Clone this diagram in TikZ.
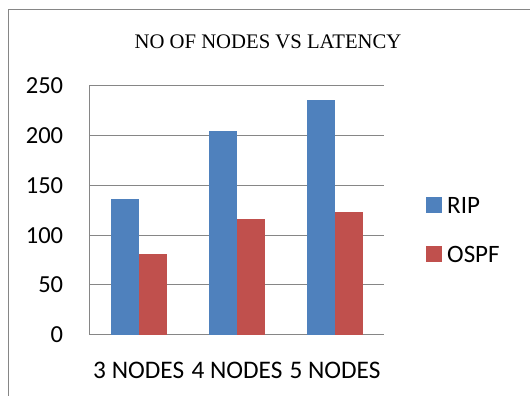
\documentclass[tikz,border=0pt]{standalone}
\usepackage{fontspec}
\setmainfont{Carlito}
\newfontfamily\titlefont{Liberation Serif}
\usetikzlibrary{calc}

\definecolor{ripblue}{HTML}{4F81BD}
\definecolor{ospfred}{HTML}{C0504D}
\definecolor{gridgray}{HTML}{868686}

\begin{document}
\begin{tikzpicture}[x=1pt, y=1pt,
  grid/.style={draw=gridgray, line width=1.1pt},
  bar/.style={line width=0pt},
  ticklabel/.style={anchor=east, inner sep=0pt, font=\fontsize{24.5}{24.5}\selectfont},
  catlabel/.style={inner sep=0pt, font=\fontsize{25.3}{25.3}\selectfont},
  keylabel/.style={anchor=west, inner sep=0pt, font=\fontsize{25}{25}\selectfont}]

\useasboundingbox (0,0) rectangle (530,396);

% Outer frame (only left and top edges show)
\draw[gridgray, line width=0.9pt] (8,0) -- (8,387) -- (530,387);

% Title
\node[font=\titlefont\fontsize{20.7}{20.7}\selectfont] (title) at (268,354) {NO OF NODES VS LATENCY};

% Origin of the plot area
\coordinate (O) at (89.3,61.3);

\begin{scope}[shift={(O)}, y=0.995pt]

% Gridlines and their labels
\foreach \v in {0,50,...,250} {
  \draw[grid] (0,\v) -- (294.7,\v);
  \node[ticklabel] (tick\v) at (-26,\v) {\v};
}
\draw[grid] (0,0) -- (0,250);

% Bars, one pair for each group (centre / RIP / OSPF)
\foreach \c\r\o\n in {49.4/136/81/3, 147.7/205/116/4, 245.7/236/123/5} {
  \fill[ripblue, bar] (\c-28,0) rectangle (\c,\r);
  \fill[ospfred, bar] (\c,0) rectangle (\c+28,\o);
  \node[catlabel] (cat\n) at (\c,-35.5) {\n{} NODES};
}

\end{scope}

% Legend
\fill[ripblue] (426.3,183.3) rectangle (441.7,198.7);
\node[keylabel] (rip) at (447,191) {RIP};
\fill[ospfred] (426.3,134.3) rectangle (441.7,150);
\node[keylabel] (ospf) at (447,142) {OSPF};

\end{tikzpicture}
\end{document}
